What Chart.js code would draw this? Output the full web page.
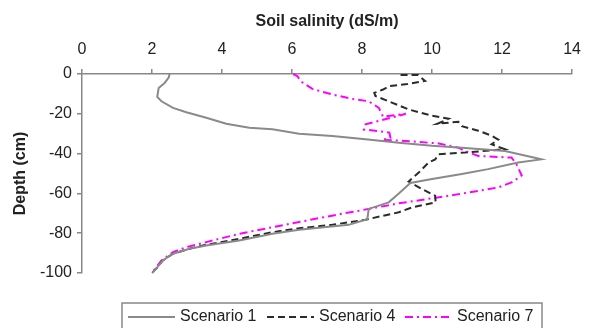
<!DOCTYPE html>
<html>
<head>
<meta charset="utf-8">
<script src="https://cdn.jsdelivr.net/npm/chart.js@4/dist/chart.umd.min.js"></script>
<style>
  html, body { margin: 0; padding: 0; background: #fff; }
  #wrap { width: 591px; height: 328px; }
</style>
</head>
<body>
<div id="wrap"><canvas id="salinityChart" width="591" height="328"></canvas></div>
<script>
// depth profiles (salinity dS/m, depth cm)
const s1Salinity = [2.5, 2.48, 2.36, 2.19, 2.15, 2.27, 2.6, 2.98, 3.55, 4.12, 4.78, 5.44, 6.2, 7.15, 8.1, 9.05, 10.0, 10.85, 12.08, 12.9, 13.12, 12.46, 11.6, 10.85, 10.0, 9.38, 9.05, 8.76, 8.19, 8.15, 7.62, 6.2, 5.44, 4.49, 3.55, 3.07, 2.6, 2.31, 2.12, 2.0];
const s1Depth = [0, -1.7, -4.5, -7, -11.5, -13.7, -17, -19.2, -22, -25, -27, -27.8, -30, -31.2, -32.8, -34.5, -36, -37, -38.7, -42, -42.9, -44.5, -47.8, -50.3, -52.8, -54.8, -60, -64.5, -67.8, -73, -75.8, -78.3, -80.3, -83.7, -86.2, -87.8, -90.3, -93.7, -97.8, -100];

const s4Salinity = [9.1, 9.6, 9.8, 9.3, 8.8, 8.6, 8.35, 8.38, 8.76, 9.33, 10.0, 10.47, 10.15, 10.75, 10.85, 11.32, 11.7, 11.89, 11.7, 12.08, 10.94, 10.19, 10.09, 9.9, 9.62, 9.33, 9.71, 10.09, 10.1, 9.43, 9.05, 8.1, 7.15, 6.2, 5.44, 4.49, 3.55, 3.07, 2.6, 2.31, 2.12, 2.0];
const s4Depth = [-0.5, -0.5, -3.5, -5, -6, -7.8, -9.5, -11, -13.7, -17.8, -21, -22.5, -25, -24, -26.2, -28.5, -31, -33, -35.3, -37.8, -39.5, -40.3, -42.9, -44.5, -49.5, -54, -57.8, -61.2, -64.5, -67, -69.5, -73.2, -75.8, -77.5, -79.5, -82.8, -85.8, -87.8, -90.3, -93.7, -97.8, -100];

const s7Salinity = [6.03, 6.15, 6.25, 6.58, 7.15, 7.72, 8.19, 8.48, 8.6, 9.25, 8.1, 8.05, 8.48, 8.78, 8.81, 8.57, 9.05, 10.19, 10.75, 10.94, 11.32, 12.27, 12.41, 12.56, 12.27, 11.89, 11.32, 10.47, 9.05, 7.91, 7.34, 6.39, 5.44, 4.49, 3.55, 2.98, 2.6, 2.27, 2.08, 2.0];
const s7Depth = [0, -1, -3.7, -7.5, -10.3, -12.5, -13.7, -17, -21.5, -20, -25.3, -27.9, -28.7, -29.5, -32, -33.2, -33.4, -34.9, -37, -38.7, -41.2, -42, -45.3, -51, -54.5, -57, -58.7, -61.2, -65, -68.7, -70.5, -73.7, -77, -80.3, -84.5, -87, -89.5, -93.7, -98, -100];

const scenarioNames = ["Scenario 1", "Scenario 4", "Scenario 7"];
const salinityTicks = { min: 0, max: 14, step: 2 };
const depthTicks = { min: -100, max: 0, step: 20 };

const FONT = "'Liberation Sans', Arial, sans-serif";
Chart.defaults.font.family = FONT;
Chart.defaults.color = "#222";

function toPoints(xs, ys) {
    return xs.map((v, i) => ({ x: v, y: ys[i] }));
}

// legend drawn as a framed box under the plot
const boxLegend = {
    id: "boxLegend",
    afterDraw(chart) {
        const ctx = chart.ctx;
        ctx.save();
        ctx.strokeStyle = "#888";
        ctx.lineWidth = 1.5;
        ctx.strokeRect(122, 303, 420, 32);
        ctx.font = "16px " + FONT;
        ctx.textBaseline = "middle";
        ctx.fillStyle = "#222";
        const starts = [128, 267, 405];
        chart.data.datasets.forEach((ds, i) => {
            const x0 = starts[i];
            const y = 317;
            ctx.beginPath();
            ctx.setLineDash(ds.borderDash || []);
            ctx.strokeStyle = ds.borderColor;
            ctx.lineWidth = ds.borderWidth;
            ctx.moveTo(x0, y);
            ctx.lineTo(x0 + 47, y);
            ctx.stroke();
            ctx.setLineDash([]);
            ctx.fillText(ds.label, x0 + 52, y);
        });
        ctx.restore();
    }
};

const chart = new Chart(document.getElementById("salinityChart"), {
    type: "scatter",
    data: {
        datasets: [
            {
                label: scenarioNames[0],
                data: toPoints(s1Salinity, s1Depth),
                borderColor: "#8a8a8a",
                borderWidth: 2,
                borderDash: []
            },
            {
                label: scenarioNames[1],
                data: toPoints(s4Salinity, s4Depth),
                borderColor: "#2b2b2b",
                borderWidth: 2,
                borderDash: [7, 4]
            },
            {
                label: scenarioNames[2],
                data: toPoints(s7Salinity, s7Depth),
                borderColor: "#ff00ff",
                borderWidth: 2,
                borderDash: [8, 4, 2, 4]
            }
        ].map(ds => Object.assign(ds, {
            showLine: true,
            pointRadius: 0,
            tension: 0,
            fill: false,
            clip: false
        }))
    },
    options: {
        responsive: false,
        animation: false,
        devicePixelRatio: 1,
        layout: { padding: { left: 0, top: 0, right: 17, bottom: 55 } },
        plugins: {
            legend: { display: false },
            tooltip: { enabled: false }
        },
        scales: {
            x: {
                type: "linear",
                position: "top",
                min: salinityTicks.min,
                max: salinityTicks.max,
                ticks: { stepSize: salinityTicks.step, padding: 10, font: { size: 16 } },
                grid: { drawOnChartArea: false, drawTicks: true, tickLength: 5, color: "#888", lineWidth: 1.5 },
                border: { color: "#888", width: 1.5 },
                title: {
                    display: true,
                    text: "Soil salinity (dS/m)",
                    font: { size: 16, weight: "bold" },
                    padding: { top: 12, bottom: 0 }
                },
                afterFit(scale) { scale.height = 74; }
            },
            y: {
                type: "linear",
                position: "left",
                min: depthTicks.min,
                max: depthTicks.max,
                ticks: { stepSize: depthTicks.step, padding: 5, font: { size: 16 } },
                grid: { drawOnChartArea: false, drawTicks: true, tickLength: 5, color: "#888", lineWidth: 1.5 },
                border: { color: "#888", width: 1.5 },
                title: {
                    display: true,
                    text: "Depth (cm)",
                    font: { size: 16, weight: "bold" },
                    padding: { top: 11, bottom: 0 }
                },
                afterFit(scale) { scale.width = 82; }
            }
        }
    },
    plugins: [boxLegend]
});
</script>
</body>
</html>
